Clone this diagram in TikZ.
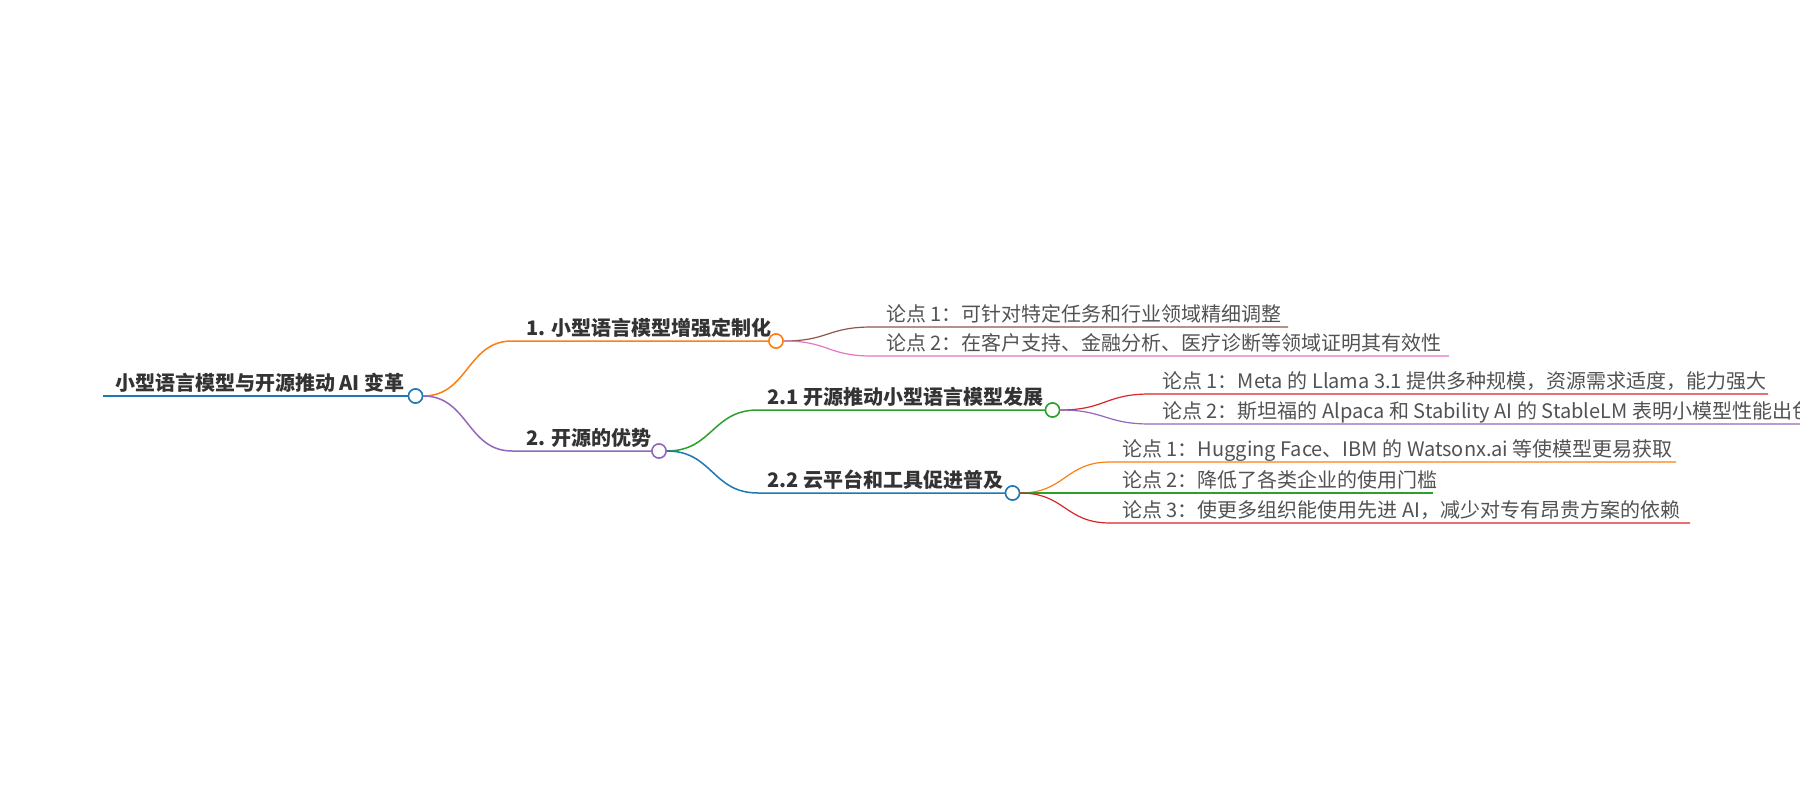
\documentclass[tikz,border=0pt]{standalone}
\usepackage{fontspec}
\setmainfont{Noto Sans CJK SC}
\usepackage{xcolor}
\usetikzlibrary{positioning, calc}
\definecolor{mmblue}{HTML}{1F77B4}
\definecolor{mmorange}{HTML}{FF7F0E}
\definecolor{mmgreen}{HTML}{2CA02C}
\definecolor{mmred}{HTML}{D62728}
\definecolor{mmpurple}{HTML}{9467BD}
\definecolor{mmbrown}{HTML}{8C564B}
\definecolor{mmpink}{HTML}{E377C2}

\begin{document}
\begin{tikzpicture}[x=1pt, y=-1pt,
    topic/.style={anchor=base west, inner sep=0pt, text=black!80,
        font=\fontsize{20}{24}\selectfont\bfseries},
    point/.style={anchor=base west, inner sep=0pt, text=black!68,
        font=\fontsize{20}{24}\selectfont},
    knob/.style={circle, draw=#1, fill=white, line width=1.5pt,
        minimum size=14pt, inner sep=0pt},
    link/.style={draw=#1, line width=1.5pt}]
    \clip (0,0) rectangle (1800,800);

    % root
    \coordinate (r0) at (103,396);
    \node[topic] (rt) at (115,390) {小型语言模型与开源推动 AI 变革};
    \draw[link=mmblue, line width=2.2pt] (r0) -- (415.5,396);
    \node[knob=mmblue] (r) at (415.5,396) {};

    % 1.
    \coordinate (a0) at (512,341);
    \node[topic] (at) at (526,335) {1. 小型语言模型增强定制化};
    \node[knob=mmorange] (a) at (776,341) {};
    \draw[link=mmorange] (r.east) .. controls +(45,0) and +(-45,0) .. (a0) -- (a.west);

    \coordinate (a10) at (872,327);
    \coordinate (a11) at (1288,327);
    \node[point] (a1t) at (886,321) {论点 1：可针对特定任务和行业领域精细调整};
    \draw[link=mmbrown, line width=1.2pt] (a.east) .. controls +(45,0) and +(-45,0) .. (a10) -- (a11);
    \coordinate (a20) at (872,356);
    \coordinate (a21) at (1449,356);
    \node[point] (a2t) at (886,350) {论点 2：在客户支持、金融分析、医疗诊断等领域证明其有效性};
    \draw[link=mmpink, line width=1.2pt] (a.east) .. controls +(45,0) and +(-45,0) .. (a20) -- (a21);

    % 2.
    \coordinate (b0) at (512,451);
    \node[topic] (bt) at (526,445) {2. 开源的优势};
    \node[knob=mmpurple] (b) at (659,451) {};
    \draw[link=mmpurple] (r.east) .. controls +(45,0) and +(-45,0) .. (b0) -- (b.west);

    % 2.1
    \coordinate (c0) at (758,410);
    \node[topic] (ct) at (767,404) {2.1 开源推动小型语言模型发展};
    \node[knob=mmgreen] (c) at (1052.5,410) {};
    \draw[link=mmgreen] (b.east) .. controls +(46,0) and +(-46,0) .. (c0) -- (c.west);

    \coordinate (c10) at (1150,394);
    \coordinate (c11) at (1768,394);
    \node[point] (c1t) at (1162,388) {论点 1：Meta 的 Llama 3.1 提供多种规模，资源需求适度，能力强大};
    \draw[link=mmred, line width=1.2pt] (c.east) .. controls +(45,0) and +(-45,0) .. (c10) -- (c11);
    \coordinate (c20) at (1150,424);
    \coordinate (c21) at (1810,424);
    \node[point] (c2t) at (1162,418) {论点 2：斯坦福的 Alpaca 和 Stability AI 的 StableLM 表明小模型性能出色};
    \draw[link=mmpurple, line width=1.2pt] (c.east) .. controls +(45,0) and +(-45,0) .. (c20) -- (c21);

    % 2.2
    \coordinate (d0) at (758,493);
    \node[topic] (dt) at (767,487) {2.2 云平台和工具促进普及};
    \node[knob=mmblue] (d) at (1012.5,493) {};
    \draw[link=mmblue] (b.east) .. controls +(46,0) and +(-46,0) .. (d0) -- (d.west);

    \coordinate (d10) at (1110,462);
    \coordinate (d11) at (1676,462);
    \node[point] (d1t) at (1122,456) {论点 1：Hugging Face、IBM 的 Watsonx.ai 等使模型更易获取};
    \draw[link=mmorange, line width=1.2pt] (d.east) .. controls +(45,0) and +(-45,0) .. (d10) -- (d11);
    \coordinate (d21) at (1433,493);
    \node[point] (d2t) at (1122,487) {论点 2：降低了各类企业的使用门槛};
    \draw[link=mmgreen, line width=1.2pt] (d.east) -- (d21);
    \coordinate (d30) at (1110,523);
    \coordinate (d31) at (1690,523);
    \node[point] (d3t) at (1122,517) {论点 3：使更多组织能使用先进 AI，减少对专有昂贵方案的依赖};
    \draw[link=mmred, line width=1.2pt] (d.east) .. controls +(45,0) and +(-45,0) .. (d30) -- (d31);

    % knobs on top of the links
    \node[knob=mmblue] at (r) {};
    \node[knob=mmorange] at (a) {};
    \node[knob=mmpurple] at (b) {};
    \node[knob=mmgreen] at (c) {};
    \node[knob=mmblue] at (d) {};
\end{tikzpicture}
\end{document}
